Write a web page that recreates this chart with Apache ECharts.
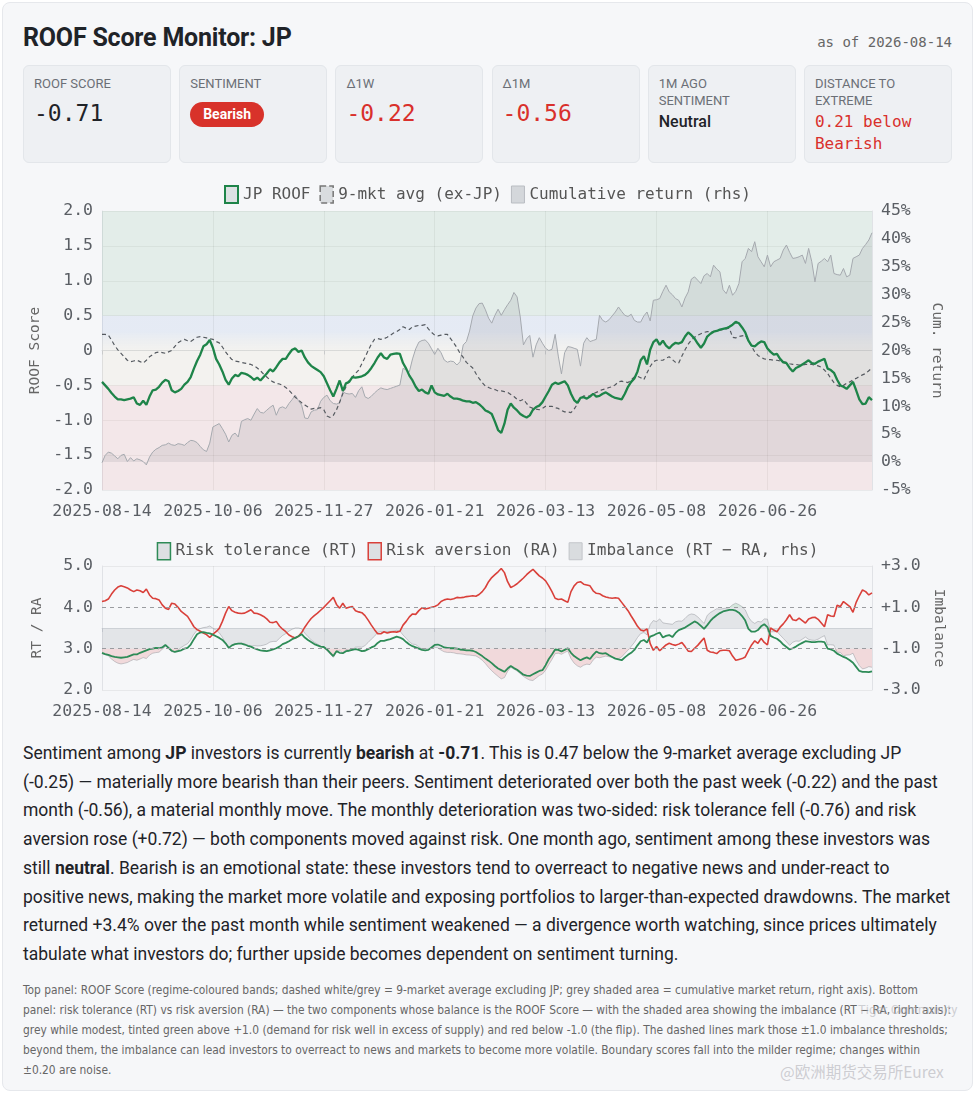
<!DOCTYPE html>
<html>
<head>
<meta charset="utf-8">
<title>ROOF Score Monitor: JP</title>
<script src="https://cdn.jsdelivr.net/npm/echarts@6/dist/echarts.min.js"></script>
<style>
  html, body { margin: 0; padding: 0; background: #fff; }
  body { position: relative; width: 975px; height: 1093px; overflow: hidden;
         font-family: Roboto, "Noto Sans", sans-serif; color: #1f2328; }
  #frame { position: absolute; left: 2px; top: 2px; width: 971px; height: 1089px; box-sizing: border-box;
           background: #f6f7f9; border: 1px solid #e6e8ec; border-radius: 8px; }
  h1 { position: absolute; left: 23px; top: 24px; margin: 0; font-size: 25px; line-height: 28px;
       font-weight: 700; letter-spacing: -0.2px; color: #1f2328; }
  .asof { position: absolute; right: 23px; top: 33px; font: 14px/18px "DejaVu Sans Mono", monospace; color: #666; }
  .cards { position: absolute; left: 23px; top: 65px; display: flex; gap: 8.2px; }
  .card { width: 148px; height: 98px; box-sizing: border-box; background: #eef0f3; border: 1px solid #e3e6ea;
          border-radius: 6px; padding: 10px 10px; }
  .lab { font-size: 13px; line-height: 16.5px; color: #6b6f76; text-transform: uppercase; }
  .val { font: 23px/28px "DejaVu Sans Mono", monospace; margin-top: 6px; color: #1f2328; }
  .red { color: #d9302c; }
  .badge { display: inline-block; margin-top: 9px; background: #d8322a; color: #fff; font-weight: 700;
           font-size: 14px; line-height: 25px; padding: 0 13px; border-radius: 13px; }
  .txt { font-size: 16px; line-height: 22px; font-weight: 500; margin-top: 2px; }
  .mono16 { font: 16px/22px "DejaVu Sans Mono", monospace; margin-top: 2px; }
  #chart { position: absolute; left: 0; top: 178px; width: 975px; height: 548px; }
  .para { position: absolute; left: 23px; top: 739px; font-size: 17.5px; line-height: 28.7px; color: #1f2328; }
  .para div, .note div { white-space: nowrap; }
  .note { position: absolute; left: 23px; top: 980px; font-family: "Liberation Sans Narrow", "DejaVu Sans Condensed", Roboto, sans-serif;
          font-size: 11.85px; line-height: 20px; color: #666; }
  .wm1 { position: absolute; left: 858px; top: 1002px; font: 13px Roboto, sans-serif; color: rgba(180,180,185,0.6); }
  .wm2 { position: absolute; left: 780px; top: 1060px; font: 15.5px "Noto Sans CJK SC", sans-serif; color: rgba(200,200,205,0.9); }
</style>
</head>
<body>
<div id="frame"></div>
<h1>ROOF Score Monitor: JP</h1>
<div class="asof">as of 2026-08-14</div>

<div class="cards">
  <div class="card"><div class="lab">ROOF Score</div><div class="val">-0.71</div></div>
  <div class="card"><div class="lab">Sentiment</div><span class="badge">Bearish</span></div>
  <div class="card"><div class="lab">Δ1W</div><div class="val red">-0.22</div></div>
  <div class="card"><div class="lab">Δ1M</div><div class="val red">-0.56</div></div>
  <div class="card"><div class="lab">1M ago<br>sentiment</div><div class="txt">Neutral</div></div>
  <div class="card"><div class="lab">Distance to<br>extreme</div><div class="mono16 red">0.21 below<br>Bearish</div></div>
</div>

<div id="chart"></div>

<div class="para">
  <div>Sentiment among <b>JP</b> investors is currently <b>bearish</b> at <b>-0.71</b>. This is 0.47 below the 9-market average excluding JP</div>
  <div>(-0.25) — materially more bearish than their peers. Sentiment deteriorated over both the past week (-0.22) and the past</div>
  <div>month (-0.56), a material monthly move. The monthly deterioration was two-sided: risk tolerance fell (-0.76) and risk</div>
  <div>aversion rose (+0.72) — both components moved against risk. One month ago, sentiment among these investors was</div>
  <div>still <b>neutral</b>. Bearish is an emotional state: these investors tend to overreact to negative news and under-react to</div>
  <div>positive news, making the market more volatile and exposing portfolios to larger-than-expected drawdowns. The market</div>
  <div>returned +3.4% over the past month while sentiment weakened — a divergence worth watching, since prices ultimately</div>
  <div>tabulate what investors do; further upside becomes dependent on sentiment turning.</div>
</div>

<div class="note">
  <div>Top panel: ROOF Score (regime-coloured bands; dashed white/grey = 9-market average excluding JP; grey shaded area = cumulative market return, right axis). Bottom</div>
  <div>panel: risk tolerance (RT) vs risk aversion (RA) — the two components whose balance is the ROOF Score — with the shaded area showing the imbalance (RT − RA, right axis):</div>
  <div>grey while modest, tinted green above +1.0 (demand for risk well in excess of supply) and red below -1.0 (the flip). The dashed lines mark those ±1.0 imbalance thresholds;</div>
  <div>beyond them, the imbalance can lead investors to overreact to news and markets to become more volatile. Boundary scores fall into the milder regime; changes within</div>
  <div>±0.20 are noise.</div>
</div>
<div class="wm1">Tiger Community</div>
<div class="wm2">@欧洲期货交易所Eurex</div>

<script>
// TSE trading days between the first and last date, weekends and exchange holidays skipped
const START = '2025-08-14'
const END = '2026-08-14'
const HOLIDAYS = ['2025-09-15', '2025-09-23', '2025-10-13', '2025-11-03', '2025-11-24', '2025-12-31',
    '2026-01-01', '2026-01-02', '2026-01-12', '2026-02-11', '2026-02-23', '2026-03-20',
    '2026-04-29', '2026-05-04', '2026-05-05', '2026-05-06', '2026-07-20', '2026-08-11']

// JP ROOF score
const roof = [
    -0.45, -0.50, -0.55, -0.61, -0.66, -0.70, -0.70, -0.71, -0.70, -0.69,
    -0.67, -0.76, -0.78, -0.72, -0.78, -0.66, -0.57, -0.56, -0.52, -0.46,
    -0.42, -0.44, -0.57, -0.60, -0.58, -0.55, -0.49, -0.45, -0.38, -0.26,
    -0.15, -0.06, 0.06, 0.09, 0.15, 0.04, -0.12, -0.20, -0.30, -0.42,
    -0.49, -0.40, -0.35, -0.37, -0.32, -0.33, -0.35, -0.38, -0.42, -0.39,
    -0.43, -0.38, -0.33, -0.27, -0.30, -0.24, -0.17, -0.12, -0.12, -0.05,
    0.01, 0.03, -0.02, 0.00, -0.10, -0.17, -0.22, -0.25, -0.28, -0.31,
    -0.37, -0.47, -0.57, -0.66, -0.55, -0.43, -0.58, -0.47, -0.45, -0.38,
    -0.39, -0.38, -0.37, -0.35, -0.31, -0.25, -0.18, -0.10, -0.04, -0.10,
    -0.12, -0.06, -0.05, -0.04, -0.05, -0.18, -0.26, -0.36, -0.43, -0.52,
    -0.58, -0.56, -0.60, -0.62, -0.50, -0.60, -0.63, -0.64, -0.65, -0.62,
    -0.66, -0.69, -0.69, -0.70, -0.72, -0.73, -0.73, -0.75, -0.74, -0.77,
    -0.81, -0.86, -0.88, -0.91, -1.02, -1.14, -1.18, -1.05, -0.85, -0.76,
    -0.82, -0.86, -0.91, -0.94, -0.96, -0.93, -0.85, -0.81, -0.79, -0.74,
    -0.66, -0.58, -0.49, -0.46, -0.48, -0.46, -0.44, -0.50, -0.62, -0.71,
    -0.75, -0.68, -0.67, -0.69, -0.66, -0.62, -0.66, -0.65, -0.62, -0.60,
    -0.63, -0.66, -0.68, -0.69, -0.70, -0.62, -0.52, -0.45, -0.40, -0.30,
    -0.14, -0.08, -0.20, 0.01, 0.12, 0.16, 0.08, 0.14, 0.07, 0.03,
    0.08, 0.11, 0.10, 0.12, 0.20, 0.26, 0.22, 0.17, 0.10, 0.04,
    0.10, 0.20, 0.24, 0.27, 0.28, 0.30, 0.31, 0.32, 0.34, 0.37,
    0.41, 0.39, 0.33, 0.26, 0.14, 0.07, 0.06, 0.10, 0.13, 0.12,
    0.03, -0.02, -0.06, -0.05, -0.12, -0.17, -0.18, -0.25, -0.30, -0.25,
    -0.23, -0.20, -0.17, -0.14, -0.18, -0.19, -0.16, -0.14, -0.12, -0.26,
    -0.28, -0.32, -0.42, -0.50, -0.52, -0.55, -0.50, -0.45, -0.57, -0.70,
    -0.77, -0.76, -0.67, -0.71
]

// 9-market average ex-JP
const avg = [
    0.23, 0.23, 0.22, 0.15, 0.07, 0.01, -0.04, -0.09, -0.14, -0.16,
    -0.15, -0.14, -0.16, -0.18, -0.14, -0.09, -0.06, -0.03, -0.02, -0.03,
    -0.04, -0.02, 0.00, 0.06, 0.11, 0.14, 0.16, 0.14, 0.13, 0.16,
    0.19, 0.20, 0.19, 0.18, 0.17, 0.16, 0.13, 0.11, 0.05, -0.02,
    -0.08, -0.13, -0.15, -0.16, -0.17, -0.18, -0.19, -0.20, -0.22, -0.25,
    -0.29, -0.34, -0.38, -0.42, -0.45, -0.47, -0.48, -0.50, -0.53, -0.57,
    -0.62, -0.67, -0.71, -0.75, -0.78, -0.81, -0.84, -0.83, -0.83, -0.82,
    -0.85, -0.94, -0.96, -0.93, -0.85, -0.74, -0.62, -0.52, -0.43, -0.38,
    -0.33, -0.28, -0.19, -0.10, 0.00, 0.09, 0.16, 0.17, 0.16, 0.17,
    0.19, 0.22, 0.25, 0.27, 0.30, 0.34, 0.32, 0.30, 0.34, 0.35,
    0.36, 0.36, 0.37, 0.31, 0.26, 0.22, 0.21, 0.22, 0.23, 0.23,
    0.17, 0.11, 0.04, -0.04, -0.10, -0.17, -0.21, -0.25, -0.33, -0.40,
    -0.46, -0.51, -0.53, -0.55, -0.56, -0.58, -0.58, -0.59, -0.60, -0.63,
    -0.66, -0.70, -0.72, -0.70, -0.76, -0.81, -0.83, -0.84, -0.85, -0.83,
    -0.80, -0.80, -0.80, -0.82, -0.83, -0.86, -0.88, -0.88, -0.89, -0.84,
    -0.77, -0.69, -0.65, -0.66, -0.65, -0.62, -0.60, -0.58, -0.56, -0.55,
    -0.53, -0.52, -0.49, -0.45, -0.44, -0.45, -0.46, -0.42, -0.38, -0.37,
    -0.39, -0.42, -0.32, -0.23, -0.16, -0.14, -0.14, -0.14, -0.11, -0.09,
    -0.13, -0.17, -0.18, -0.08, 0.01, 0.09, 0.15, 0.19, 0.22, 0.24,
    0.26, 0.27, 0.27, 0.27, 0.28, 0.29, 0.30, 0.31, 0.32, 0.19,
    0.18, 0.20, 0.21, 0.22, 0.14, 0.06, -0.02, -0.07, -0.10, -0.12,
    -0.13, -0.13, -0.14, -0.14, -0.15, -0.16, -0.17, -0.19, -0.20, -0.20,
    -0.21, -0.21, -0.20, -0.20, -0.20, -0.21, -0.22, -0.24, -0.28, -0.33,
    -0.40, -0.46, -0.50, -0.52, -0.50, -0.47, -0.45, -0.42, -0.40, -0.37,
    -0.35, -0.33, -0.29, -0.25
]

// cumulative market return, %
const cumRet = [
    -0.1, 1.2, 1.8, 1.6, 1.1, 0.6, 1.2, 1.4, 0.1, 0.8,
    0.2, 0.6, 0.4, 0.1, -0.5, 0.9, 1.8, 2.3, 2.6, 3.0,
    3.1, 3.4, 3.1, 3.0, 3.3, 3.2, 3.0, 3.5, 3.9, 3.8,
    3.5, 2.8, 2.2, 1.9, 3.4, 6.3, 6.6, 6.9, 6.0, 5.0,
    3.6, 4.8, 5.2, 4.5, 7.3, 7.6, 7.8, 7.5, 8.6, 9.6,
    8.9, 8.8, 9.3, 9.8, 10.2, 8.4, 9.7, 9.9, 9.6, 10.5,
    11.2, 12.0, 11.0, 10.2, 7.9, 7.8, 9.0, 9.3, 9.4, 10.9,
    11.6, 12.0, 11.0, 10.5, 10.4, 10.6, 12.6, 12.3, 12.2, 12.3,
    11.6, 12.8, 13.5, 11.7, 11.4, 11.8, 12.4, 12.9, 13.3, 13.1,
    13.0, 13.2, 13.4, 13.6, 13.8, 16.8, 16.5, 16.2, 18.5, 20.3,
    21.5, 21.8, 21.9, 21.3, 20.3, 19.3, 20.4, 19.6, 18.3, 17.9,
    18.1, 18.0, 17.4, 18.0, 21.0, 21.6, 23.5, 26.2, 27.6, 28.4,
    28.5, 27.3, 25.8, 24.9, 26.3, 27.4, 26.3, 27.3, 28.2, 29.0,
    30.4, 29.6, 26.0, 21.0, 22.1, 22.7, 18.8, 21.0, 22.3, 21.3,
    20.4, 20.0, 20.2, 22.9, 19.0, 15.8, 19.6, 20.7, 20.6, 20.4,
    20.2, 17.2, 21.3, 22.3, 21.6, 21.8, 22.0, 26.3, 25.4, 25.1,
    25.5, 26.2, 26.9, 27.8, 27.0, 26.3, 26.1, 26.5, 25.4, 25.1,
    25.1, 26.2, 26.9, 25.3, 29.0, 29.1, 29.3, 30.6, 31.7, 30.5,
    30.0, 29.3, 29.0, 27.8, 29.4, 30.5, 32.8, 33.2, 32.6, 32.0,
    33.4, 33.8, 33.2, 35.3, 34.6, 34.1, 30.9, 30.2, 31.7, 29.9,
    30.6, 32.0, 35.9, 36.5, 38.3, 37.7, 39.5, 36.8, 35.9, 35.0,
    37.1, 35.0, 35.9, 36.2, 36.5, 38.0, 38.9, 37.6, 36.5, 36.6,
    36.8, 37.1, 35.6, 38.3, 35.9, 32.3, 35.6, 36.0, 36.5, 35.9,
    37.1, 33.8, 33.6, 33.5, 34.7, 33.2, 33.5, 36.5, 36.8, 37.1,
    38.3, 39.0, 39.8, 41.1
]

// risk tolerance
const rt = [
    2.90, 2.87, 2.85, 2.82, 2.80, 2.79, 2.78, 2.79, 2.80, 2.83,
    2.86, 2.86, 2.90, 2.93, 2.96, 2.99, 3.00, 3.02, 3.01, 3.03,
    3.09, 3.02, 2.95, 2.92, 2.94, 2.96, 3.00, 3.02, 3.10, 3.23,
    3.35, 3.39, 3.40, 3.38, 3.37, 3.34, 3.30, 3.26, 3.21, 3.13,
    3.02, 3.08, 3.11, 3.12, 3.12, 3.10, 3.07, 3.05, 3.01, 2.98,
    2.96, 2.95, 2.94, 2.96, 2.98, 3.01, 3.05, 3.11, 3.14, 3.18,
    3.23, 3.26, 3.30, 3.35, 3.27, 3.21, 3.16, 3.11, 3.08, 3.05,
    3.04, 2.98, 2.90, 2.82, 2.94, 2.90, 2.89, 2.94, 2.95, 2.97,
    2.99, 2.97, 2.94, 2.95, 2.99, 3.03, 3.06, 3.14, 3.19, 3.19,
    3.21, 3.23, 3.26, 3.29, 3.27, 3.23, 3.16, 3.10, 3.06, 3.03,
    3.00, 2.97, 2.96, 2.97, 3.03, 3.09, 3.10, 3.07, 3.03, 3.02,
    3.01, 3.01, 3.00, 2.98, 2.97, 2.96, 2.96, 2.95, 2.92, 2.87,
    2.82, 2.76, 2.71, 2.65, 2.58, 2.52, 2.48, 2.44, 2.52, 2.58,
    2.53, 2.49, 2.43, 2.37, 2.35, 2.34, 2.38, 2.42, 2.46, 2.48,
    2.60, 2.75, 2.86, 2.98, 2.97, 2.93, 2.97, 3.01, 2.90, 2.82,
    2.77, 2.72, 2.76, 2.79, 2.75, 2.85, 2.93, 2.89, 2.88, 2.89,
    2.84, 2.80, 2.76, 2.74, 2.72, 2.79, 2.85, 2.90, 2.97, 3.08,
    3.18, 3.21, 3.15, 3.29, 3.32, 3.36, 3.39, 3.27, 3.31, 3.33,
    3.28, 3.38, 3.45, 3.48, 3.51, 3.56, 3.61, 3.66, 3.62, 3.55,
    3.48, 3.57, 3.67, 3.75, 3.81, 3.86, 3.90, 3.92, 3.94, 3.94,
    3.92, 3.87, 3.79, 3.68, 3.48, 3.41, 3.41, 3.45, 3.54, 3.59,
    3.52, 3.31, 3.27, 3.24, 3.18, 3.10, 3.04, 2.98, 3.01, 3.05,
    3.10, 3.14, 3.18, 3.17, 3.16, 3.16, 3.17, 3.17, 3.16, 3.00,
    2.98, 2.95, 2.88, 2.84, 2.80, 2.77, 2.72, 2.66, 2.56, 2.46,
    2.44, 2.44, 2.43, 2.45
]

// risk aversion
const ra = [
    4.14, 4.16, 4.20, 4.32, 4.42, 4.49, 4.52, 4.50, 4.47, 4.42,
    4.38, 4.42, 4.40, 4.36, 4.44, 4.30, 4.22, 4.21, 4.18, 4.06,
    3.98, 3.95, 4.10, 4.08, 4.00, 3.90, 3.84, 3.78, 3.66, 3.53,
    3.46, 3.42, 3.38, 3.34, 3.27, 3.35, 3.41, 3.49, 3.66, 3.86,
    4.02, 3.92, 3.88, 3.86, 3.85, 3.86, 3.90, 3.94, 3.86, 3.85,
    3.82, 3.78, 3.72, 3.64, 3.63, 3.66, 3.55, 3.47, 3.41, 3.33,
    3.29, 3.26, 3.30, 3.39, 3.52, 3.63, 3.73, 3.80, 3.86, 3.93,
    4.00, 4.08, 4.16, 4.24, 4.07, 3.98, 4.10, 3.98, 4.00, 4.02,
    3.92, 3.89, 3.87, 3.80, 3.69, 3.57, 3.46, 3.36, 3.36, 3.41,
    3.38, 3.40, 3.41, 3.40, 3.42, 3.57, 3.66, 3.77, 3.84, 3.83,
    3.92, 3.99, 3.96, 3.98, 4.00, 4.02, 4.06, 4.14, 4.18, 4.20,
    4.19, 4.21, 4.24, 4.23, 4.24, 4.26, 4.27, 4.28, 4.27, 4.31,
    4.38, 4.48, 4.62, 4.72, 4.79, 4.86, 4.94, 4.84, 4.62, 4.48,
    4.52, 4.57, 4.64, 4.71, 4.79, 4.86, 4.92, 4.84, 4.76, 4.71,
    4.64, 4.52, 4.38, 4.22, 4.19, 4.20, 4.16, 4.12, 4.38, 4.52,
    4.60, 4.62, 4.56, 4.54, 4.52, 4.40, 4.34, 4.33, 4.28, 4.25,
    4.23, 4.22, 4.23, 4.22, 4.12, 4.02, 3.92, 3.79, 3.67, 3.54,
    3.45, 3.43, 3.48, 3.12, 2.96, 3.05, 2.95, 3.02, 3.09, 3.13,
    3.10, 3.08, 3.11, 3.15, 3.05, 2.94, 2.93, 3.01, 3.08, 3.17,
    3.26, 2.96, 2.92, 2.91, 2.88, 2.95, 2.96, 2.96, 2.95, 2.82,
    2.72, 2.74, 2.76, 2.80, 2.95, 3.09, 3.19, 3.13, 3.25, 3.15,
    3.09, 3.50, 3.45, 3.41, 3.52, 3.60, 3.70, 3.82, 3.70, 3.68,
    3.74, 3.68, 3.62, 3.72, 3.75, 3.76, 3.71, 3.62, 3.53, 3.82,
    3.79, 3.78, 4.05, 4.02, 4.14, 4.08, 4.02, 3.88, 4.12, 4.28,
    4.42, 4.38, 4.30, 4.35
]

// regime bands on the ROOF axis
const BAND_GREEN = 'rgba(40,140,70,0.085)'
const BAND_BLUE = 'rgba(60,110,200,0.085)'
const BAND_BEIGE = 'rgba(200,170,90,0.06)'
const BAND_PINK = 'rgba(215,50,55,0.08)'

function tradingDays(start, end, holidays) {
    const out = []
    const d = new Date(start + 'T00:00:00Z')
    const stop = new Date(end + 'T00:00:00Z')
    while (d <= stop) {
        const s = d.toISOString().slice(0, 10)
        const wd = d.getUTCDay()
        if (wd !== 0 && wd !== 6 && holidays.indexOf(s) < 0) out.push(s)
        d.setUTCDate(d.getUTCDate() + 1)
    }
    return out
}

const dates = tradingDays(START, END, HOLIDAYS)
const imb = rt.map((v, i) => +(v - ra[i]).toFixed(2))

const MONO = '"DejaVu Sans Mono", monospace'
const AXC = '#5a5e64'
const LABEL_EVERY = 34

function xAxisFor(grid) {
    return {
        type: 'category', gridIndex: grid, data: dates, boundaryGap: false,
        axisLine: { lineStyle: { color: '#d9dce1' } },
        axisTick: { show: true, interval: LABEL_EVERY, length: 4, lineStyle: { color: '#c9cdd3' } },
        axisLabel: { interval: LABEL_EVERY, color: AXC, fontFamily: MONO, fontSize: 16.5, margin: grid ? 13 : 13 },
        splitLine: { show: true, interval: LABEL_EVERY, lineStyle: { color: 'rgba(0,0,0,0.06)' } }
    }
}

function yName(name, rotate) {
    return {
        name: name, nameLocation: 'middle', nameRotate: rotate, nameGap: 57,
        nameTextStyle: { color: '#666', fontFamily: MONO, fontSize: 14.5 }
    }
}

const labelStyle = { color: AXC, fontFamily: MONO, fontSize: 16.5, margin: 9 }

const chart = echarts.init(document.getElementById('chart'))

const option = {
    animation: false,
    textStyle: { fontFamily: MONO },
    legend: [{
        top: 2, left: 'center', itemWidth: 13, itemHeight: 17, itemGap: 9,
        textStyle: { color: '#555', fontFamily: MONO, fontSize: 16 },
        data: [
            { name: 'JP ROOF', icon: 'rect', itemStyle: { color: '#dde1e3', borderColor: '#1e8449', borderWidth: 2 } },
            { name: '9-mkt avg (ex-JP)', icon: 'rect', itemStyle: { color: '#d9dcdf', borderColor: '#777', borderWidth: 1.5, borderType: 'dashed' } },
            { name: 'Cumulative return (rhs)', icon: 'rect', itemStyle: { color: '#d4d7db', borderColor: '#b9bdc2', borderWidth: 1 } }
        ]
    }, {
        top: 359, left: 'center', itemWidth: 13, itemHeight: 17, itemGap: 9,
        textStyle: { color: '#555', fontFamily: MONO, fontSize: 16 },
        data: [
            { name: 'Risk tolerance (RT)', icon: 'rect', itemStyle: { color: '#dde0e3', borderColor: '#2e8b57', borderWidth: 1.5 } },
            { name: 'Risk aversion (RA)', icon: 'rect', itemStyle: { color: '#dde0e3', borderColor: '#d9403a', borderWidth: 1.5 } },
            { name: 'Imbalance (RT − RA, rhs)', icon: 'rect', itemStyle: { color: '#d9dcdf', borderColor: '#c2c5ca', borderWidth: 1 } }
        ]
    }],
    grid: [
        { left: 102, width: 770, top: 33, height: 279 },
        { left: 102, width: 770, top: 388, height: 124 }
    ],
    xAxis: [xAxisFor(0), xAxisFor(1)],
    yAxis: [
        Object.assign({
            type: 'value', gridIndex: 0, position: 'left', min: -2, max: 2, interval: 0.5,
            axisLine: { show: true, lineStyle: { color: '#e0e2e6' } },
            axisLabel: Object.assign({ formatter: v => v === 0 ? '0' : v.toFixed(1) }, labelStyle),
            splitLine: { lineStyle: { color: 'rgba(0,0,0,0.055)' } }
        }, yName('ROOF Score', 90)),
        Object.assign({
            type: 'value', gridIndex: 0, position: 'right', min: -5, max: 45, interval: 5,
            axisLine: { show: true, lineStyle: { color: '#e0e2e6' } },
            axisLabel: Object.assign({ formatter: '{value}%' }, labelStyle),
            splitLine: { show: false }
        }, yName('Cum. return', -90)),
        Object.assign({
            type: 'value', gridIndex: 1, position: 'left', min: 2, max: 5, interval: 1,
            axisLine: { show: true, lineStyle: { color: '#e0e2e6' } },
            axisLabel: Object.assign({ formatter: v => v.toFixed(1) }, labelStyle),
            splitLine: { lineStyle: { color: ['rgba(0,0,0,0.06)', 'rgba(0,0,0,0)', 'rgba(0,0,0,0)', 'rgba(0,0,0,0.06)'] } }
        }, yName('RT / RA', 90)),
        Object.assign({
            type: 'value', gridIndex: 1, position: 'right', min: -3, max: 3, interval: 2,
            axisLine: { show: true, lineStyle: { color: '#e0e2e6' } },
            axisLabel: Object.assign({ formatter: v => (v > 0 ? '+' : '') + v.toFixed(1) }, labelStyle),
            splitLine: { show: false }
        }, yName('Imbalance', -90))
    ],
    series: [
        // regime bands
        {
            type: 'line', xAxisIndex: 0, yAxisIndex: 0, data: roof, symbol: 'none', silent: true, z: 0,
            lineStyle: { opacity: 0 },
            markArea: {
                silent: true,
                data: [
                    [{ yAxis: 2, itemStyle: { color: BAND_GREEN } }, { yAxis: 0.5 }],
                    [{
                        yAxis: 0.5, itemStyle: {
                            color: new echarts.graphic.LinearGradient(0, 0, 0, 1, [
                                { offset: 0, color: BAND_BLUE }, { offset: 0.45, color: BAND_BLUE },
                                { offset: 1, color: BAND_BEIGE }])
                        }
                    }, { yAxis: 0 }],
                    [{ yAxis: 0, itemStyle: { color: BAND_BEIGE } }, { yAxis: -0.5 }],
                    [{ yAxis: -0.5, itemStyle: { color: BAND_PINK } }, { yAxis: -2 }]
                ]
            }
        },
        {
            name: 'Cumulative return (rhs)', type: 'line', xAxisIndex: 0, yAxisIndex: 1, data: cumRet,
            symbol: 'none', z: 1,
            lineStyle: { color: '#a4a8ae', width: 1 },
            itemStyle: { color: '#c8ccd1' },
            areaStyle: { color: 'rgba(100,102,115,0.18)' }
        },
        {
            name: '9-mkt avg (ex-JP)', type: 'line', xAxisIndex: 0, yAxisIndex: 0, data: avg,
            symbol: 'none', z: 2,
            lineStyle: { color: '#555a60', width: 1.2, type: [4, 3] },
            itemStyle: { color: '#777' }
        },
        {
            name: 'JP ROOF', type: 'line', xAxisIndex: 0, yAxisIndex: 0, data: roof,
            symbol: 'none', z: 3,
            lineStyle: { color: '#1e8449', width: 2.3 },
            itemStyle: { color: '#1e8449' }
        },

        // imbalance: grey inside ±1.0
        {
            name: 'Imbalance (RT − RA, rhs)', type: 'line', xAxisIndex: 1, yAxisIndex: 3,
            data: imb.map(v => Math.max(-1, Math.min(1, v))), symbol: 'none', z: 1,
            lineStyle: { width: 0, opacity: 0 },
            itemStyle: { color: '#cfd2d6' },
            areaStyle: { color: 'rgba(170,174,182,0.36)' },
            markLine: {
                silent: true, symbol: 'none', label: { show: false },
                lineStyle: { type: [4, 4], color: '#9a9ca0', width: 1 },
                data: [{ yAxis: 1 }, { yAxis: -1 }]
            }
        },
        // green tint above +1.0
        {
            type: 'line', xAxisIndex: 1, yAxisIndex: 3, stack: 'over', stackStrategy: 'all',
            data: imb.map(() => 1), symbol: 'none', silent: true, lineStyle: { opacity: 0 }, z: 1
        },
        {
            type: 'line', xAxisIndex: 1, yAxisIndex: 3, stack: 'over', stackStrategy: 'all',
            data: imb.map(v => Math.max(v - 1, 0)), symbol: 'none', silent: true, z: 1,
            lineStyle: { opacity: 0 }, areaStyle: { color: 'rgba(60,160,90,0.25)' }
        },
        // red tint below -1.0
        {
            type: 'line', xAxisIndex: 1, yAxisIndex: 3, stack: 'under', stackStrategy: 'all',
            data: imb.map(() => -1), symbol: 'none', silent: true, lineStyle: { opacity: 0 }, z: 1
        },
        {
            type: 'line', xAxisIndex: 1, yAxisIndex: 3, stack: 'under', stackStrategy: 'all',
            data: imb.map(v => Math.min(v + 1, 0)), symbol: 'none', silent: true, z: 1,
            lineStyle: { opacity: 0 }, areaStyle: { color: 'rgba(225,90,90,0.27)' }
        },
        // imbalance outline
        {
            type: 'line', xAxisIndex: 1, yAxisIndex: 3, data: imb, symbol: 'none', silent: true, z: 2,
            lineStyle: { color: 'rgba(150,152,158,0.5)', width: 1 }
        },
        {
            name: 'Risk aversion (RA)', type: 'line', xAxisIndex: 1, yAxisIndex: 2, data: ra,
            symbol: 'none', z: 3,
            lineStyle: { color: '#d9403a', width: 1.6 },
            itemStyle: { color: '#d9403a' }
        },
        {
            name: 'Risk tolerance (RT)', type: 'line', xAxisIndex: 1, yAxisIndex: 2, data: rt,
            symbol: 'none', z: 4,
            lineStyle: { color: '#2e8b57', width: 1.8 },
            itemStyle: { color: '#2e8b57' }
        }
    ]
}

chart.setOption(option)
</script>
</body>
</html>
